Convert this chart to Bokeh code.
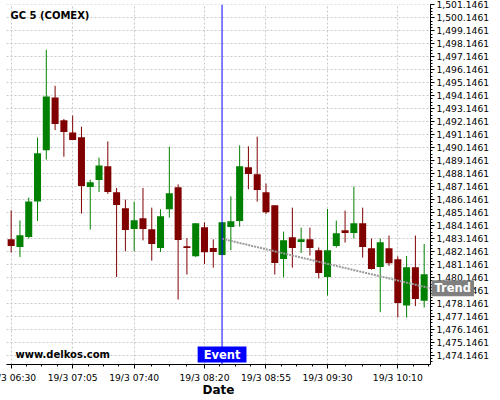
import pandas as pd
from bokeh.plotting import figure
from bokeh.models import (ColumnDataSource, FixedTicker, NumeralTickFormatter,
                          Span, Label, Range1d)
from bokeh.embed import file_html
from bokeh.resources import INLINE

# ---------------- data ----------------
times = [t.strftime("%H:%M") for t in pd.date_range("2019-03-19 06:30", periods=48, freq="5min")]

opens = [1483.09, 1482.50, 1483.27, 1486.01, 1489.94, 1494.01, 1492.25, 1491.32,
         1490.94, 1487.11, 1487.65, 1488.71, 1486.71, 1485.48, 1483.88, 1484.71,
         1483.86, 1482.42, 1485.40, 1487.09, 1482.55, 1481.78, 1484.01, 1482.42,
         1481.88, 1484.04, 1484.50, 1488.63, 1488.09, 1486.71, 1485.71, 1481.58,
         1483.25, 1482.88, 1483.09, 1482.25, 1480.19, 1482.58, 1483.78, 1483.58,
         1484.32, 1482.40, 1480.96, 1482.40, 1481.55, 1477.99, 1480.94, 1478.35]
highs = [1485.32, 1484.55, 1486.30, 1490.92, 1497.68, 1494.91, 1492.35, 1492.61,
         1491.76, 1487.68, 1489.38, 1490.63, 1487.04, 1486.15, 1485.99, 1487.04,
         1485.53, 1485.40, 1490.22, 1487.32, 1483.17, 1484.32, 1484.40, 1483.09,
         1484.40, 1486.40, 1490.32, 1490.25, 1490.99, 1487.38, 1485.71, 1483.68,
         1485.53, 1483.99, 1483.99, 1482.46, 1485.42, 1484.53, 1485.30, 1487.15,
         1485.53, 1483.15, 1483.15, 1483.38, 1481.78, 1481.81, 1483.38, 1482.73]
lows = [1482.07, 1481.73, 1483.15, 1484.50, 1489.22, 1491.50, 1489.45, 1490.73,
        1485.07, 1483.84, 1486.73, 1486.59, 1480.19, 1482.17, 1482.17, 1483.01,
        1481.45, 1482.11, 1484.76, 1478.45, 1480.38, 1481.73, 1481.19, 1480.91,
        1481.88, 1482.25, 1484.07, 1486.94, 1485.99, 1485.04, 1480.38, 1480.17,
        1480.91, 1482.04, 1481.84, 1480.08, 1478.76, 1482.45, 1482.84, 1483.15,
        1481.68, 1480.76, 1477.48, 1481.04, 1477.07, 1477.07, 1477.94, 1477.84]
closes = [1482.58, 1483.40, 1486.01, 1489.71, 1494.09, 1491.96, 1491.35, 1490.73,
          1487.19, 1487.48, 1488.78, 1486.73, 1485.73, 1483.81, 1484.55, 1483.88,
          1482.73, 1484.86, 1486.63, 1483.04, 1482.42, 1484.32, 1482.09, 1482.11,
          1484.40, 1484.48, 1488.71, 1488.11, 1486.88, 1485.17, 1481.27, 1483.01,
          1482.42, 1483.09, 1482.42, 1480.50, 1482.25, 1483.55, 1483.58, 1484.32,
          1482.50, 1480.81, 1482.86, 1481.25, 1478.19, 1480.94, 1478.50, 1480.40]

tick_times = ["06:30", "07:05", "07:40", "08:20", "08:55", "09:30", "10:10"]
date_prefix = "19/3"
event_time = "08:30"
trend_values = [1483.13, 1479.32]
y_tick_first, y_tick_last = 1474.1461, 1501.1461

x_start, x_end = -0.53, 47.72
y_start, y_end = 1473.45, 1501.17

# ---------------- figure ----------------
UP, DOWN = "#008000", "#800000"
idx = list(range(len(times)))
colors = [UP if c >= o else DOWN for o, c in zip(opens, closes)]
src = ColumnDataSource(dict(
    x=idx, high=highs, low=lows,
    top=[max(o, c) for o, c in zip(opens, closes)],
    bottom=[min(o, c) for o, c in zip(opens, closes)],
    color=colors))

p = figure(frame_width=424, frame_height=360, output_backend="svg",
           toolbar_location=None, y_axis_location="right",
           x_range=Range1d(x_start, x_end), y_range=Range1d(y_start, y_end),
           min_border_left=26, min_border_top=4, min_border_right=0, min_border_bottom=0,
           styles={"position": "relative", "left": "-20px"})
p.outline_line_color = None
p.background_fill_color = "white"
p.border_fill_color = "white"

FONT = "DejaVu Sans"

# grid
p.xgrid.grid_line_color = "#c8c8c8"
p.xgrid.grid_line_dash = "2 2"
p.ygrid.grid_line_color = "#c8c8c8"
p.ygrid.grid_line_dash = "2 2"

# x axis ticks
major = [times.index(t) for t in tick_times]
step = (major[1] - major[0]) / 4
minor = []
for a, b in zip(major[:-1], major[1:]):
    minor += [a + (b - a) * k / 4 for k in range(1, 4)]
last = major[-1]
k = 1
while last + k * step <= x_end:
    minor.append(last + k * step)
    k += 1
p.xaxis.ticker = FixedTicker(ticks=major, minor_ticks=minor)
p.xaxis.major_label_overrides = {m: f"{date_prefix} {t}" for m, t in zip(major, tick_times)}
p.xaxis.axis_label = "Date"
p.xaxis.axis_label_text_font = FONT
p.xaxis.axis_label_text_font_style = "bold"
p.xaxis.axis_label_text_font_size = "12px"
p.xaxis.axis_label_text_color = "black"
p.xaxis.axis_label_standoff = -3

# y axis ticks
n = int(round(y_tick_last - y_tick_first))
yt = [y_tick_first + i for i in range(n + 1)]
ym = [y_tick_first + i * 0.25 for i in range(-4, 4 * n + 5)]
p.yaxis.ticker = FixedTicker(ticks=yt, minor_ticks=ym)
p.yaxis.formatter = NumeralTickFormatter(format="0,0.0000")

for ax in (p.xaxis, p.yaxis):
    ax.axis_line_color = "black"
    ax.major_tick_line_color = "black"
    ax.minor_tick_line_color = "black"
    ax.major_tick_in = 0
    ax.major_tick_out = 4
    ax.minor_tick_in = 0
    ax.minor_tick_out = 2
    ax.major_label_text_font = FONT
    ax.major_label_text_font_size = "9.2px"
    ax.major_label_text_color = "black"
    ax.major_label_standoff = 2
p.xaxis.major_label_standoff = 3

# candles
p.segment(x0="x", y0="high", x1="x", y1="low", color="color", line_width=1, source=src)
p.vbar(x="x", width=0.8, top="top", bottom="bottom", fill_color="color",
       line_color=None, source=src)

# trend
ev = times.index(event_time)
p.line(x=[ev, x_end], y=trend_values, line_color="#999999", line_width=2,
       line_dash="2 1")

# event line
p.add_layout(Span(location=ev, dimension="height", line_color="#0000ff", line_width=1))

# labels
p.add_layout(Label(x=x_start, y=y_end, text="GC 5 (COMEX)", text_font=FONT,
                   text_font_style="bold", text_font_size="10px", text_color="black",
                   text_baseline="middle", x_offset=4, y_offset=-11))
p.add_layout(Label(x=x_start, y=y_start, text="www.delkos.com", text_font=FONT,
                   text_font_style="bold", text_font_size="10px", text_color="black",
                   text_baseline="middle", x_offset=9, y_offset=10))
p.add_layout(Label(x=ev, y=y_start, text="Event", text_font=FONT,
                   text_font_style="bold", text_font_size="11.5px", text_color="white",
                   text_align="center", text_baseline="bottom",
                   background_fill_color="#0000ff",
                   padding=dict(left=6, right=6, top=1, bottom=1), y_offset=2))
p.add_layout(Label(x=x_end, y=trend_values[-1], text="Trend", text_font=FONT,
                   text_font_style="bold", text_font_size="11.5px", text_color="white",
                   text_align="left", text_baseline="middle",
                   background_fill_color="#808080",
                   padding=dict(left=3, right=3, top=1, bottom=1), x_offset=1), "right")

open("out.html", "w").write(file_html(p, INLINE))
